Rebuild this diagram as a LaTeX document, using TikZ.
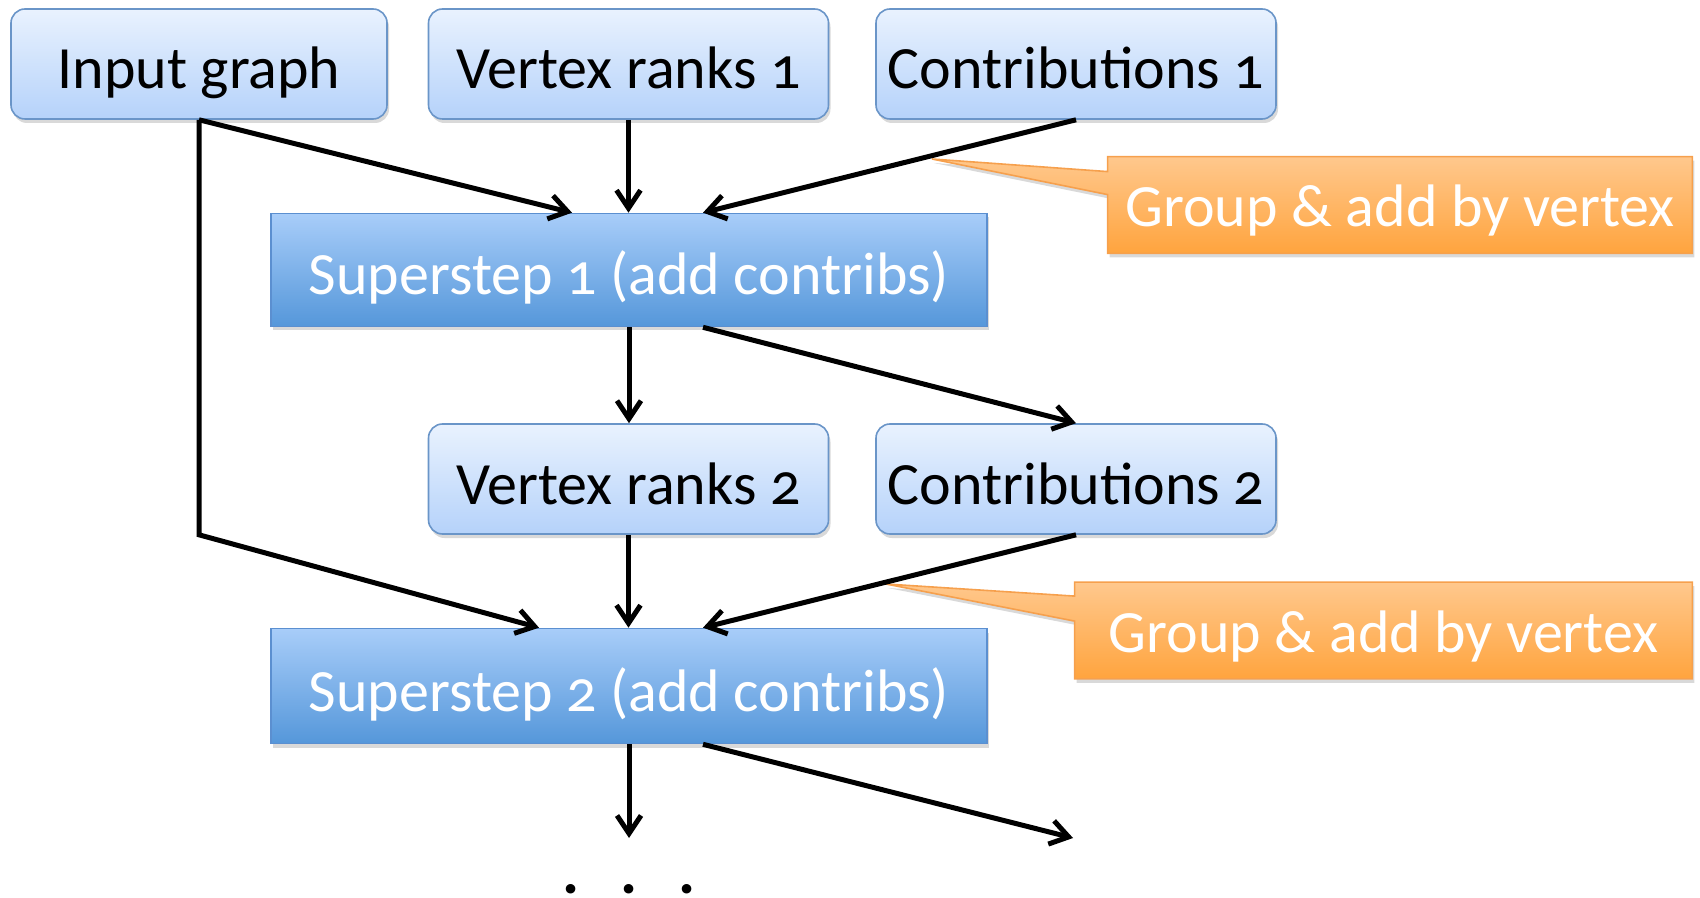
\documentclass[tikz,border=0pt]{standalone}
\usepackage{fontspec}
\setmainfont{Carlito}[Numbers=OldStyle]
\usetikzlibrary{arrows.meta,shadows,calc,backgrounds}

\definecolor{datatop}{HTML}{E9F2FE}
\definecolor{databot}{HTML}{B5D2FA}
\definecolor{dataline}{HTML}{6A95C8}
\definecolor{steptop}{HTML}{A8CDF9}
\definecolor{stepbot}{HTML}{5597DA}
\definecolor{stepline}{HTML}{5B8FD0}
\definecolor{notetop}{HTML}{FFC88D}
\definecolor{notebot}{HTML}{FFA43E}
\definecolor{noteline}{HTML}{F6A04D}

\tikzset{
  boxfont/.style={font=\fontsize{30}{35}\selectfont, text height=25pt, text depth=0pt},
  databox/.style={boxfont, draw=dataline, line width=0.8pt, rounded corners=7pt,
    top color=datatop, bottom color=databot, inner sep=0pt,
    minimum width=200pt, minimum height=55pt,
    drop shadow={shadow xshift=1pt, shadow yshift=-2pt, opacity=0.3}},
  stepbox/.style={boxfont, text=white, draw=stepline, line width=0.8pt,
    top color=steptop, bottom color=stepbot, inner sep=0pt,
    minimum width=358pt, minimum height=56.5pt,
    drop shadow={shadow xshift=1pt, shadow yshift=-2pt, opacity=0.3}},
  notebox/.style={boxfont, text height=22pt, text=white, inner sep=0pt, minimum height=48pt},
  notefill/.style={draw=noteline, line width=0.8pt, top color=notetop, bottom color=notebot,
    drop shadow={shadow xshift=1pt, shadow yshift=-2pt, opacity=0.3}},
  flow/.style={line width=2.5pt, -{Straight Barb[length=9pt,width=12pt,line width=2.5pt]}}
}

\begin{document}
\begin{tikzpicture}[x=0.5pt,y=-0.5pt]
	\useasboundingbox (0,0) rectangle (1700,898);

	% data sets
	\node [databox, minimum width=188pt] (inp) at (199,64) {Input graph};
	\node [databox] (vr1) at (628.5,64) {Vertex ranks 1};
	\node [databox] (ct1) at (1076,64) {Contributions 1};
	\node [databox] (vr2) at (628.5,479) {Vertex ranks 2};
	\node [databox] (ct2) at (1076,479) {Contributions 2};

	% supersteps
	\node [stepbox] (ss1) at (629,270) {Superstep 1 (add contribs)};
	\node [stepbox, minimum height=57.5pt] (ss2) at (629,686) {Superstep 2 (add contribs)};

	% callouts
	\node [notebox, minimum width=292pt] (cl1) at (1400,205) {Group \& add by vertex};
	\node [notebox, minimum width=308.5pt] (cl2) at (1383.5,630.5) {Group \& add by vertex};
	\coordinate (tip1) at (932,159);
	\coordinate (tip2) at (886,584);
	\begin{scope}[on background layer]
		\draw [notefill] (tip1) -- ($(cl1.north west)+(0,15)$) -- (cl1.north west) -- (cl1.north east)
			-- (cl1.south east) -- (cl1.south west) -- ($(cl1.north west)+(0,38)$) -- cycle;
		\draw [notefill] (tip2) -- ($(cl2.north west)+(0,14)$) -- (cl2.north west) -- (cl2.north east)
			-- (cl2.south east) -- (cl2.south west) -- ($(cl2.north west)+(0,39)$) -- cycle;
	\end{scope}

	% flow into superstep 1
	\draw [flow] (inp.south) -- ($(ss1.north)+(-57,0)$);
	\draw [flow] (vr1.south) -- (vr1.south |- ss1.north);
	\draw [flow] (ct1.south) -- ($(ss1.north)+(74,0)$);

	% flow out of superstep 1
	\draw [flow] (ss1.south) -- (ss1.south |- vr2.north);
	\draw [flow] ($(ss1.south)+(74,0)$) -- (ct2.north);

	% flow into superstep 2
	\draw [flow, line join=miter] (inp.south) -- (inp.south |- vr2.south) -- ($(ss2.north)+(-90,0)$);
	\draw [flow] (vr2.south) -- (vr2.south |- ss2.north);
	\draw [flow] (ct2.south) -- ($(ss2.north)+(74,0)$);

	% flow out of superstep 2
	\coordinate (out1) at (629,838);
	\coordinate (out2) at (1073,838);
	\draw [flow] (ss2.south) -- (out1);
	\draw [flow] ($(ss2.south)+(74,0)$) -- (out2);
	\node [anchor=base, inner sep=0pt, font=\fontsize{32}{36}\selectfont\bfseries] (more) at (629,893) {.\hspace{20.5pt}.\hspace{20.5pt}.};

\end{tikzpicture}
\end{document}
